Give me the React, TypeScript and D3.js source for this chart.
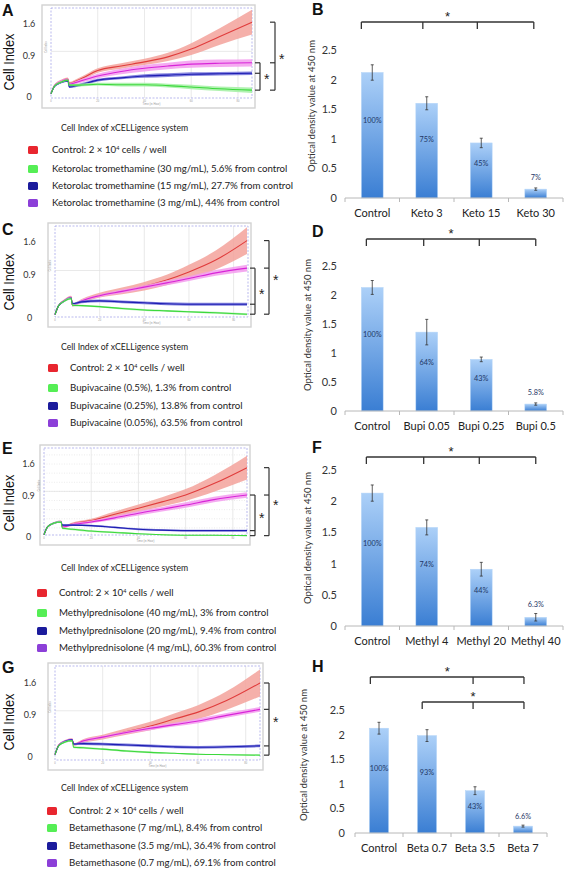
import React from "react";
import * as d3 from "d3";

const FONT = "Lato, 'Open Sans', sans-serif";
const ARIAL = "'Liberation Sans', Arial, sans-serif";

// ---------- xCELLigence time knots (hours) ----------
const HOURS = [0, 1.5, 4, 7.2, 7.8, 12, 20, 30, 40, 50, 60, 72, 86];
const GRID_HOURS = [20, 40, 60, 80];
const CI_TICKS = [0, 0.9, 1.6];
const CI_TICK_LABELS = ["0", "0.9", "1.6"];

// ---------- Panel A: Ketorolac ----------
const A_CTRL = [0.07, 0.25, 0.34, 0.40, 0.30, 0.38, 0.58, 0.68, 0.77, 0.88, 1.05, 1.32, 1.64];
const A_CTRL_SD = [0.01, 0.02, 0.03, 0.03, 0.03, 0.04, 0.05, 0.06, 0.07, 0.09, 0.13, 0.18, 0.27];
const A_HIGH = [0.07, 0.24, 0.32, 0.37, 0.26, 0.26, 0.28, 0.27, 0.27, 0.25, 0.22, 0.18, 0.15];
const A_HIGH_SD = [0.01, 0.02, 0.02, 0.02, 0.02, 0.03, 0.03, 0.04, 0.04, 0.04, 0.05, 0.05, 0.06];
const A_MID = [0.07, 0.23, 0.31, 0.35, 0.22, 0.26, 0.37, 0.42, 0.46, 0.48, 0.50, 0.51, 0.52];
const A_MID_SD = [0.01, 0.02, 0.02, 0.02, 0.02, 0.03, 0.03, 0.03, 0.04, 0.04, 0.04, 0.04, 0.04];
const A_LOW = [0.07, 0.25, 0.33, 0.38, 0.28, 0.34, 0.46, 0.56, 0.63, 0.68, 0.72, 0.74, 0.75];
const A_LOW_SD = [0.01, 0.02, 0.03, 0.03, 0.03, 0.04, 0.05, 0.06, 0.07, 0.07, 0.08, 0.08, 0.08];
const A_LEGEND = [
  "Control: 2 × 10^4 cells / well",
  "Ketorolac tromethamine (30 mg/mL), 5.6% from control",
  "Ketorolac tromethamine (15 mg/mL), 27.7% from control",
  "Ketorolac tromethamine (3 mg/mL), 44% from control",
];

// ---------- Panel C: Bupivacaine ----------
const C_CTRL = [0.07, 0.25, 0.36, 0.44, 0.27, 0.36, 0.48, 0.57, 0.67, 0.80, 0.97, 1.22, 1.63];
const C_CTRL_SD = [0.01, 0.02, 0.03, 0.03, 0.03, 0.04, 0.05, 0.07, 0.09, 0.11, 0.15, 0.20, 0.28];
const C_HIGH = [0.07, 0.25, 0.35, 0.41, 0.27, 0.26, 0.24, 0.20, 0.17, 0.15, 0.13, 0.11, 0.08];
const C_HIGH_SD = [0.01, 0.01, 0.02, 0.02, 0.02, 0.02, 0.02, 0.02, 0.02, 0.02, 0.02, 0.02, 0.02];
const C_MID = [0.07, 0.25, 0.35, 0.42, 0.30, 0.34, 0.36, 0.34, 0.32, 0.30, 0.29, 0.29, 0.29];
const C_MID_SD = [0.01, 0.02, 0.02, 0.02, 0.02, 0.03, 0.03, 0.03, 0.03, 0.03, 0.03, 0.03, 0.03];
const C_LOW = [0.07, 0.25, 0.36, 0.43, 0.27, 0.36, 0.47, 0.56, 0.65, 0.74, 0.83, 0.95, 1.05];
const C_LOW_SD = [0.01, 0.02, 0.02, 0.03, 0.03, 0.03, 0.03, 0.04, 0.04, 0.05, 0.05, 0.06, 0.07];
const C_LEGEND = [
  "Control: 2 × 10^4 cells / well",
  "Bupivacaine (0.5%), 1.3% from control",
  "Bupivacaine (0.25%), 13.8% from control",
  "Bupivacaine (0.05%), 63.5% from control",
];

// ---------- Panel E: Methylprednisolone ----------
const E_CTRL = [0.05, 0.22, 0.30, 0.34, 0.22, 0.29, 0.36, 0.50, 0.63, 0.77, 0.92, 1.17, 1.52];
const E_CTRL_SD = [0.01, 0.02, 0.02, 0.02, 0.02, 0.03, 0.04, 0.06, 0.08, 0.10, 0.13, 0.18, 0.26];
const E_HIGH = [0.05, 0.22, 0.30, 0.33, 0.19, 0.17, 0.13, 0.10, 0.07, 0.05, 0.04, 0.04, 0.03];
const E_HIGH_SD = [0.01, 0.01, 0.02, 0.02, 0.02, 0.02, 0.02, 0.02, 0.01, 0.01, 0.01, 0.01, 0.01];
const E_MID = [0.05, 0.22, 0.30, 0.33, 0.26, 0.26, 0.25, 0.21, 0.17, 0.15, 0.14, 0.14, 0.14];
const E_MID_SD = [0.01, 0.02, 0.02, 0.02, 0.02, 0.02, 0.02, 0.02, 0.02, 0.02, 0.02, 0.02, 0.02];
const E_LOW = [0.05, 0.22, 0.30, 0.34, 0.22, 0.27, 0.33, 0.42, 0.52, 0.61, 0.70, 0.82, 0.92];
const E_LOW_SD = [0.01, 0.02, 0.02, 0.02, 0.02, 0.03, 0.03, 0.04, 0.05, 0.05, 0.06, 0.06, 0.06];
const E_LEGEND = [
  "Control: 2 × 10^4 cells / well",
  "Methylprednisolone (40 mg/mL), 3% from control",
  "Methylprednisolone (20 mg/mL), 9.4% from control",
  "Methylprednisolone (4 mg/mL), 60.3% from control",
];

// ---------- Panel G: Betamethasone ----------
const G_CTRL = [0.05, 0.25, 0.34, 0.38, 0.27, 0.35, 0.43, 0.55, 0.67, 0.82, 0.97, 1.22, 1.60];
const G_CTRL_SD = [0.01, 0.02, 0.02, 0.03, 0.03, 0.04, 0.05, 0.07, 0.09, 0.12, 0.15, 0.20, 0.29];
const G_HIGH = [0.05, 0.24, 0.32, 0.35, 0.21, 0.20, 0.17, 0.13, 0.10, 0.08, 0.06, 0.05, 0.04];
const G_HIGH_SD = [0.01, 0.01, 0.02, 0.02, 0.02, 0.02, 0.02, 0.02, 0.02, 0.01, 0.01, 0.01, 0.01];
const G_MID = [0.05, 0.24, 0.33, 0.37, 0.28, 0.29, 0.28, 0.26, 0.24, 0.22, 0.21, 0.22, 0.24];
const G_MID_SD = [0.01, 0.02, 0.02, 0.02, 0.02, 0.03, 0.03, 0.03, 0.03, 0.03, 0.03, 0.03, 0.03];
const G_LOW = [0.05, 0.25, 0.34, 0.38, 0.27, 0.35, 0.43, 0.53, 0.62, 0.70, 0.78, 0.90, 1.03];
const G_LOW_SD = [0.01, 0.02, 0.02, 0.02, 0.02, 0.03, 0.03, 0.03, 0.04, 0.04, 0.05, 0.05, 0.05];
const G_LEGEND = [
  "Control: 2 × 10^4 cells / well",
  "Betamethasone (7 mg/mL), 8.4% from control",
  "Betamethasone (3.5 mg/mL), 36.4% from control",
  "Betamethasone (0.7 mg/mL), 69.1% from control",
];

// ---------- WST bar charts ----------
const OD_TICKS = [0, 0.5, 1, 1.5, 2, 2.5];
const OD_TICK_LABELS = ["0", "0.5", "1", "1.5", "2", "2.5"];

const B_CATS = ["Control", "Keto 3", "Keto 15", "Keto 30"];
const B_VALUES = [2.12, 1.6, 0.93, 0.15];
const B_ERR = [0.13, 0.11, 0.08, 0.02];
const B_PCT = ["100%", "75%", "45%", "7%"];

const D_CATS = ["Control", "Bupi 0.05", "Bupi 0.25", "Bupi 0.5"];
const D_VALUES = [2.13, 1.36, 0.89, 0.12];
const D_ERR = [0.12, 0.22, 0.04, 0.02];
const D_PCT = ["100%", "64%", "43%", "5.8%"];

const F_CATS = ["Control", "Methyl 4", "Methyl 20", "Methyl 40"];
const F_VALUES = [2.13, 1.58, 0.91, 0.14];
const F_ERR = [0.13, 0.12, 0.11, 0.06];
const F_PCT = ["100%", "74%", "44%", "6.3%"];

const H_CATS = ["Control", "Beta 0.7", "Beta 3.5", "Beta 7"];
const H_VALUES = [2.13, 1.98, 0.86, 0.14];
const H_ERR = [0.12, 0.12, 0.08, 0.02];
const H_PCT = ["100%", "93%", "43%", "6.6%"];

// ---------- styles ----------
const LINE_COL = { ctrl: "#e03c3c", low: "#d824d8", mid: "#1e1eb2", high: "#3cd83c" };
const BAND_COL = { ctrl: "#f3a29b", low: "#f39cef", mid: "#6e6ed8", high: "#a2f0a2" };
const SWATCH = ["#e8262f", "#55ee55", "#1b1b9c", "#8c3fd8"];

type LeftLayout = {
  letter: string; letterY: number;
  frame: [number, number, number, number];
  x0: number; x1: number; y0: number; y16: number;
  tickX: number; ciY: number; titleY: number;
  legendY: number[]; swX: number; textX: number;
  minorGrid?: boolean;
  brackets: { x: number; members: string[] }[];
};

const LEFT: LeftLayout[] = [
  { letter: "A", letterY: 16, frame: [42, 5, 213, 103], x0: 51, x1: 252, y0: 97, y16: 24, tickX: 29, ciY: 62, titleY: 131,
    legendY: [150, 169, 186, 203], swX: 28, textX: 52,
    brackets: [{ x: 275, members: ["ctrl", "low", "high"] }, { x: 260, members: ["low", "mid", "high"] }] },
  { letter: "C", letterY: 235, frame: [48, 223, 203, 104], x0: 55, x1: 247, y0: 318, y16: 242, tickX: 29.5, ciY: 282, titleY: 350,
    legendY: [368, 388, 406, 423], swX: 48, textX: 70,
    brackets: [{ x: 269, members: ["ctrl", "low", "high"] }, { x: 255, members: ["low", "mid", "high"] }] },
  { letter: "E", letterY: 454, frame: [40, 445, 210, 100], x0: 44, x1: 247, y0: 537, y16: 464, tickX: 28.5, ciY: 503, titleY: 571,
    legendY: [593, 613, 631, 648], swX: 37, textX: 59, minorGrid: true,
    brackets: [{ x: 269, members: ["ctrl", "low", "high"] }, { x: 255, members: ["low", "mid", "high"] }] },
  { letter: "G", letterY: 673, frame: [48, 663, 215, 107], x0: 55, x1: 260, y0: 757, y16: 683, tickX: 30, ciY: 722, titleY: 791,
    legendY: [811, 828, 846, 863], swX: 47, textX: 69,
    brackets: [{ x: 269, members: ["ctrl", "low", "mid", "high"] }] },
];

type RightLayout = {
  letter: string; letterY: number; x0: number; x1: number; y0: number; y25: number;
  tickX: number; titleX: number; titleY: number;
  brackets: { y: number; ticks: [number, number][] }[];
};

const RIGHT: RightLayout[] = [
  { letter: "B", letterY: 15, x0: 345, x1: 563, y0: 198, y25: 50, tickX: 337, titleX: 314.5, titleY: 106,
    brackets: [{ y: 22, ticks: [[0, 0], [1, 0.32], [2, 0.32], [3, 0.41]] }] },
  { letter: "D", letterY: 237, x0: 345, x1: 563, y0: 411, y25: 266, tickX: 337, titleX: 310.5, titleY: 325,
    brackets: [{ y: 239, ticks: [[0, 0.23], [1, 0.36], [2, 0.41], [3, 0.5]] }] },
  { letter: "F", letterY: 453, x0: 345, x1: 563, y0: 626, y25: 470, tickX: 337, titleX: 310.5, titleY: 538,
    brackets: [{ y: 457, ticks: [[0, 0.23], [1, 0.36], [2, 0.41], [3, 0.5]] }] },
  { letter: "H", letterY: 672, x0: 355, x1: 547, y0: 833, y25: 710, tickX: 345, titleX: 306.5, titleY: 755,
    brackets: [
      { y: 677, ticks: [[0, 0.05], [2, 0.4], [3, 0.55]] },
      { y: 702, ticks: [[1, 0.25], [2, 0.4], [3, 0.55]] },
    ] },
];

function LegendText({ s, x, y }: { s: string; x: number; y: number }) {
  const parts = s.split("^4");
  return (
    <text x={x} y={y} fontSize={9.7} fontFamily={FONT} fill="#222">
      {parts[0]}
      {parts.length > 1 && (
        <>
          <tspan fontSize={5.5} dy={-3.5}>4</tspan>
          <tspan dy={3.5}>{parts[1]}</tspan>
        </>
      )}
    </text>
  );
}

function LeftPanel({ L, data, legend }: { L: LeftLayout; data: Record<string, [number[], number[]]>; legend: string[] }) {
  const x = d3.scaleLinear().domain([0, 86]).range([L.x0, L.x1]);
  const y = d3.scaleLinear().domain([0, 1.6]).range([L.y0, L.y16]);
  const [fx, fy, fw, fh] = L.frame;
  const plotTop = fy + 3;
  const plotBottom = fy + fh - 10;
  const plotRight = fx + fw - 3;
  const order = ["ctrl", "low", "mid", "high"];
  const minor = L.minorGrid ? d3.range(0.2, 1.81, 0.2) : [];
  return (
    <g>
      <text x={2} y={L.letterY} fontSize={16} fontWeight="bold" fontFamily={ARIAL} fill="#111">{L.letter}</text>
      <rect x={fx} y={fy} width={fw} height={fh} fill="#fff" stroke="#d2d2d2" strokeWidth={1.4} />
      {minor.map((v) => (
        <line key={"m" + v} x1={L.x0} x2={plotRight} y1={y(v)} y2={y(v)} stroke="#d8d8d8" strokeWidth={0.5} strokeDasharray="1,1.5" />
      ))}
      {GRID_HOURS.map((h) => (
        <line key={h} x1={x(h)} x2={x(h)} y1={plotTop} y2={plotBottom} stroke="#e0e0e0" strokeWidth={0.7} />
      ))}
      <line x1={L.x0} x2={plotRight} y1={y(1)} y2={y(1)} stroke="#e0e0e0" strokeWidth={0.7} />
      <rect x={L.x0} y={plotTop} width={plotRight - L.x0} height={plotBottom - plotTop} fill="none" stroke="#9c9ce6" strokeWidth={0.7} strokeDasharray="2,1.5" />
      {[0, 20, 40, 60, 80].map((h) => (
        <text key={"t" + h} x={x(h)} y={plotBottom + 3.5} fontSize={2.6} textAnchor="middle" fill="#999" fontFamily={ARIAL}>{h}</text>
      ))}
      <text x={(L.x0 + plotRight) / 2} y={plotBottom + 7} fontSize={2.8} textAnchor="middle" fill="#999" fontFamily={ARIAL}>Time (in Hour)</text>
      <text transform={`translate(${L.x0 - 4},${(plotTop + plotBottom) / 2 - 6}) rotate(-90)`} fontSize={2.6} textAnchor="middle" fill="#999" fontFamily={ARIAL}>Cell Index</text>
      {order.map((k) => {
        const [mean, sd] = data[k];
        const area = d3.area<number>()
          .x((_, i) => x(HOURS[i]))
          .y0((d, i) => y(d - sd[i]))
          .y1((d, i) => y(d + sd[i]))
          .curve(d3.curveMonotoneX);
        const line = d3.line<number>()
          .x((_, i) => x(HOURS[i]))
          .y((d) => y(d))
          .curve(d3.curveMonotoneX);
        return (
          <g key={k}>
            <path d={area(mean) || ""} fill={BAND_COL[k as keyof typeof BAND_COL]} fillOpacity={0.85} />
            <path d={line(mean) || ""} fill="none" stroke={LINE_COL[k as keyof typeof LINE_COL]} strokeWidth={1.1} />
          </g>
        );
      })}
      {CI_TICKS.map((v, i) => (
        <text key={v} x={L.tickX} y={y(v) + 3} fontSize={9} textAnchor="middle" fontFamily={FONT} fill="#333">{CI_TICK_LABELS[i]}</text>
      ))}
      <text transform={`translate(14,${L.ciY}) rotate(-90)`} fontSize={14} textAnchor="middle" fontFamily={ARIAL} fill="#111" textLength={57} lengthAdjust="spacingAndGlyphs">Cell Index</text>
      {L.brackets.map((b, bi) => {
        const ys = b.members.map((k) => { const m = data[k][0]; return y(m[m.length - 1]); });
        const top = d3.min(ys) as number;
        const bot = d3.max(ys) as number;
        return (
          <g key={bi} stroke="#333" strokeWidth={1.2} fill="none">
            <line x1={b.x} x2={b.x} y1={top} y2={bot} />
            {ys.map((yy, i) => <line key={i} x1={b.x - 5} x2={b.x} y1={yy} y2={yy} />)}
            <text x={b.x + 4} y={(top + bot) / 2 + 8} fontSize={14} fontFamily={ARIAL} fill="#222" stroke="none">*</text>
          </g>
        );
      })}
      <text x={61} y={L.titleY} fontSize={8.7} fontFamily={FONT} fill="#222">Cell Index of xCELLigence system</text>
      {legend.map((s, i) => (
        <g key={i}>
          <rect x={L.swX} y={L.legendY[i] - 4} width={10} height={8} rx={1.5} fill={SWATCH[i]} />
          <LegendText s={s} x={L.textX} y={L.legendY[i] + 3.3} />
        </g>
      ))}
    </g>
  );
}

function RightPanel({ R, cats, values, errs, pcts }: { R: RightLayout; cats: string[]; values: number[]; errs: number[]; pcts: string[] }) {
  const x = d3.scaleBand().domain(cats).range([R.x0, R.x1]).paddingInner(0.6).paddingOuter(0.3);
  const y = d3.scaleLinear().domain([0, 2.5]).range([R.y0, R.y25]);
  const step = (R.x1 - R.x0) / cats.length;
  const bw = x.bandwidth();
  return (
    <g>
      <text x={312} y={R.letterY} fontSize={16} fontWeight="bold" fontFamily={ARIAL} fill="#111">{R.letter}</text>
      {R.brackets.map((b, bi) => {
        const xs = b.ticks.map(([ci, f]) => (x(cats[ci]) as number) + bw * f);
        const l = d3.min(xs) as number;
        const r = d3.max(xs) as number;
        return (
          <g key={bi} stroke="#333" strokeWidth={1.3} fill="none">
            <line x1={l} x2={r} y1={b.y} y2={b.y} />
            {xs.map((xx, i) => <line key={i} x1={xx} x2={xx} y1={b.y} y2={b.y + 7} />)}
            <text x={(l + r) / 2} y={b.y - 1} fontSize={13} textAnchor="middle" fontFamily={ARIAL} fill="#222" stroke="none">*</text>
          </g>
        );
      })}
      {OD_TICKS.map((v, i) => (
        <text key={v} x={R.tickX} y={y(v) + 4} fontSize={11} textAnchor="end" fontFamily={FONT} fill="#333">{OD_TICK_LABELS[i]}</text>
      ))}
      <text transform={`translate(${R.titleX},${R.titleY}) rotate(-90)`} fontSize={9.5} textAnchor="middle" fontFamily={FONT} fill="#333">Optical density value at 450 nm</text>
      {cats.map((c, i) => {
        const bx = x(c) as number;
        const v = values[i];
        const e = errs[i];
        const cx = bx + bw / 2;
        const ly = v > 0.4 ? y(v * 0.62) : y(v + 0.2);
        return (
          <g key={c}>
            <rect x={bx} y={y(v)} width={bw} height={R.y0 - y(v)} fill="url(#barGrad)" stroke="#b5d5f8" strokeWidth={0.5} />
            <line x1={cx} x2={cx} y1={y(v + e)} y2={y(v - e)} stroke="#333" strokeWidth={0.8} />
            <line x1={cx - 1.5} x2={cx + 1.5} y1={y(v + e)} y2={y(v + e)} stroke="#333" strokeWidth={0.8} />
            <line x1={cx - 1.5} x2={cx + 1.5} y1={y(v - e)} y2={y(v - e)} stroke="#333" strokeWidth={0.8} />
            <text x={cx} y={ly + 2.5} fontSize={7.3} textAnchor="middle" fontFamily={FONT} fill="#1f3766">{pcts[i]}</text>
            <text x={R.x0 + step * (i + 0.5)} y={R.y0 + 19} fontSize={11} textAnchor="middle" fontFamily={FONT} fill="#222">{c}</text>
          </g>
        );
      })}
      <line x1={R.x0} x2={R.x1} y1={R.y0} y2={R.y0} stroke="#b8b8b8" strokeWidth={1} />
      {d3.range(cats.length + 1).map((i) => (
        <line key={i} x1={R.x0 + step * i} x2={R.x0 + step * i} y1={R.y0} y2={R.y0 + 4} stroke="#b8b8b8" strokeWidth={1} />
      ))}
    </g>
  );
}

export default function App() {
  const leftData = [
    { ctrl: [A_CTRL, A_CTRL_SD], high: [A_HIGH, A_HIGH_SD], mid: [A_MID, A_MID_SD], low: [A_LOW, A_LOW_SD] },
    { ctrl: [C_CTRL, C_CTRL_SD], high: [C_HIGH, C_HIGH_SD], mid: [C_MID, C_MID_SD], low: [C_LOW, C_LOW_SD] },
    { ctrl: [E_CTRL, E_CTRL_SD], high: [E_HIGH, E_HIGH_SD], mid: [E_MID, E_MID_SD], low: [E_LOW, E_LOW_SD] },
    { ctrl: [G_CTRL, G_CTRL_SD], high: [G_HIGH, G_HIGH_SD], mid: [G_MID, G_MID_SD], low: [G_LOW, G_LOW_SD] },
  ] as Record<string, [number[], number[]]>[];
  const legends = [A_LEGEND, C_LEGEND, E_LEGEND, G_LEGEND];
  const bars = [
    [B_CATS, B_VALUES, B_ERR, B_PCT],
    [D_CATS, D_VALUES, D_ERR, D_PCT],
    [F_CATS, F_VALUES, F_ERR, F_PCT],
    [H_CATS, H_VALUES, H_ERR, H_PCT],
  ] as [string[], number[], number[], string[]][];
  return (
    <svg width={567} height={873} style={{ position: "absolute", left: 0, top: 0, background: "#fff" }}>
      <defs>
        <linearGradient id="barGrad" x1="0" y1="0" x2="0" y2="1">
          <stop offset="0" stopColor="#acd0f8" />
          <stop offset="1" stopColor="#3a7ed3" />
        </linearGradient>
      </defs>
      <rect width={567} height={873} fill="#fff" />
      {LEFT.map((L, i) => <LeftPanel key={L.letter} L={L} data={leftData[i]} legend={legends[i]} />)}
      {RIGHT.map((R, i) => (
        <RightPanel key={R.letter} R={R} cats={bars[i][0]} values={bars[i][1]} errs={bars[i][2]} pcts={bars[i][3]} />
      ))}
    </svg>
  );
}
